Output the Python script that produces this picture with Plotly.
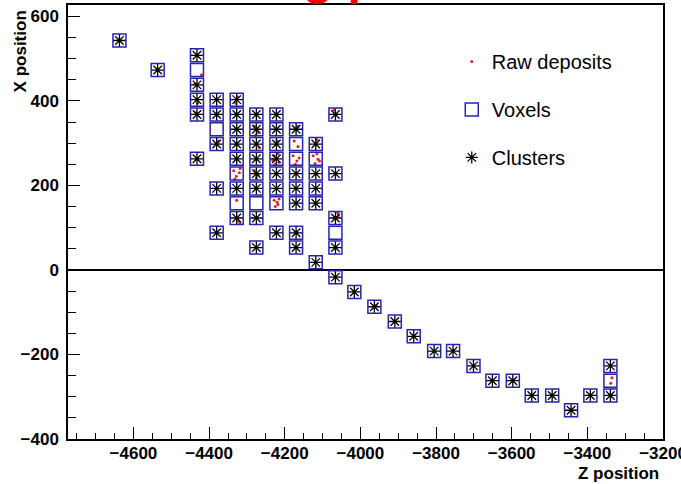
import plotly.graph_objects as go

# Voxels (Z, X) and whether a cluster sits in the voxel
vox_z = [-4637, -4536,
         -4432, -4432, -4432, -4432, -4432, -4432,
         -4380, -4380, -4380, -4380, -4380, -4380,
         -4327, -4327, -4327, -4327, -4327, -4327, -4327, -4327, -4327,
         -4275, -4275, -4275, -4275, -4275, -4275, -4275, -4275, -4275,
         -4222, -4222, -4222, -4222, -4222, -4222, -4222, -4222,
         -4170, -4170, -4170, -4170, -4170, -4170, -4170, -4170,
         -4118, -4118, -4118, -4118, -4118, -4118,
         -4066, -4066, -4066, -4066, -4066, -4066,
         -4016, -3963, -3909, -3859, -3805, -3755, -3701, -3651, -3597,
         -3547, -3493, -3443, -3392, -3339, -3339, -3339]
vox_x = [543, 473,
         508, 473, 438, 403, 368, 263,
         403, 368, 333, 298, 193, 88,
         403, 368, 333, 298, 263, 228, 193, 158, 123,
         368, 333, 298, 263, 228, 193, 158, 123, 53,
         368, 333, 298, 263, 228, 193, 158, 88,
         333, 298, 263, 228, 193, 158, 88, 53,
         298, 263, 228, 193, 158, 18,
         368, 228, 123, 88, 53, -17,
         -52, -87, -122, -157, -192, -192, -227, -262, -262,
         -297, -297, -332, -297, -227, -262, -297]
vox_has_cluster = [1, 1,
                   1, 0, 1, 1, 1, 1,
                   1, 1, 0, 1, 1, 1,
                   1, 1, 1, 1, 1, 0, 1, 0, 1,
                   1, 1, 1, 1, 1, 1, 0, 1, 1,
                   1, 1, 1, 1, 1, 1, 0, 1,
                   1, 0, 0, 1, 1, 1, 1, 1,
                   1, 0, 1, 1, 1, 1,
                   1, 1, 1, 0, 1, 1,
                   1, 1, 1, 1, 1, 1, 1, 1, 1,
                   1, 1, 1, 1, 1, 0, 1]

# Raw deposits (Z, X)
raw_z = [-4420, -4438, -4430, -4435, -4325, -4330, -4375,
         -4335, -4328, -4320, -4332, -4318, -4327, -4318, -4322,
         -4280, -4270, -4278, -4275, -4268, -4280, -4270, -4275,
         -4228, -4215, -4225, -4218, -4232, -4228, -4220, -4225, -4215, -4218, -4220,
         -4175, -4165, -4178, -4168, -4172, -4162, -4165,
         -4125, -4112, -4120, -4115, -4108, -4115,
         -4060, -4058, -4070, -3958, -3335, -3338]
raw_x = [462, 440, 395, 372, 410, 395, 305,
         235, 222, 230, 215, 240, 165, 110, 115,
         340, 325, 318, 300, 290, 235, 225, 218,
         270, 255, 250, 275, 260, 165, 160, 150, 168, 155, 305,
         305, 292, 270, 258, 250, 265, 340,
         270, 262, 252, 275, 258, 308,
         135, 128, 378, -84, -255, -268]

clu_z = [z for z, c in zip(vox_z, vox_has_cluster) if c]
clu_x = [x for x, c in zip(vox_x, vox_has_cluster) if c]

FONT = "Liberation Sans, Arial, sans-serif"

fig = go.Figure()
fig.add_trace(go.Scatter(
    x=raw_z, y=raw_x, mode="markers", name="Raw deposits", legendgroup="a",
    marker=dict(symbol="circle", size=3, color="#e0202a", line=dict(width=0))))
fig.add_trace(go.Scatter(
    x=vox_z, y=vox_x, mode="markers", name="Voxels", legendgroup="b",
    marker=dict(symbol="square-open", size=13, color="#2424b0",
                line=dict(width=1.5, color="#2424b0"))))
fig.add_trace(go.Scatter(
    x=clu_z, y=clu_x, mode="markers", name="Clusters", legendgroup="c",
    marker=dict(symbol="asterisk-open", size=10, color="black",
                line=dict(width=1.3, color="black"))))

axis_common = dict(
    showgrid=False, showline=True, linecolor="black", linewidth=1.5,
    mirror=True, ticks="inside", tickcolor="black", tickwidth=1.2,
    automargin=False, ticklabeloverflow="allow",
    tickfont=dict(family=FONT, size=17, color="black", weight="bold"),
)

fig.update_xaxes(range=[-4773, -3200], tick0=-4600, dtick=200, ticklen=12,
                 zeroline=False,
                 minor=dict(ticks="inside", dtick=50, ticklen=6, tickcolor="black", tickwidth=1),
                 ticklabelstandoff=-2, **axis_common)
fig.update_yaxes(range=[-400, 627], tick0=0, dtick=200, ticklen=12,
                 zeroline=True, zerolinecolor="black", zerolinewidth=1.5,
                 minor=dict(ticks="inside", dtick=50, ticklen=8, tickcolor="black", tickwidth=1),
                 ticklabelstandoff=4, **axis_common)

fig.update_layout(
    width=681, height=484,
    margin=dict(l=68, r=18, t=5, b=45, autoexpand=False),
    plot_bgcolor="white", paper_bgcolor="white",
    showlegend=True,
    legend=dict(x=0.645, y=0.915, xanchor="left", yanchor="top",
                bgcolor="rgba(0,0,0,0)", borderwidth=0,
                font=dict(family=FONT, size=20, color="black"),
                traceorder="grouped", tracegroupgap=19),
    annotations=[
        dict(text="X position", xref="paper", yref="paper", x=-0.08, y=1,
             xanchor="center", yanchor="top", yshift=-3, textangle=-90, showarrow=False,
             font=dict(family=FONT, size=17, color="black", weight="bold")),
        dict(text="Z position", xref="paper", yref="paper", x=1, y=0,
             xanchor="right", yanchor="top", xshift=-2, yshift=-23, showarrow=False,
             font=dict(family=FONT, size=17, color="black", weight="bold")),
        dict(text="Clustering performance", xref="paper", yref="paper", x=0.027, y=1,
             xanchor="left", yanchor="bottom", yshift=-2, showarrow=False,
             font=dict(family=FONT, size=50, color="red", weight="bold")),
    ],
)

fig.write_html("out.html", config={"displayModeBar": False},
               post_script="document.body.style.margin='0';document.body.style.padding='0';")
